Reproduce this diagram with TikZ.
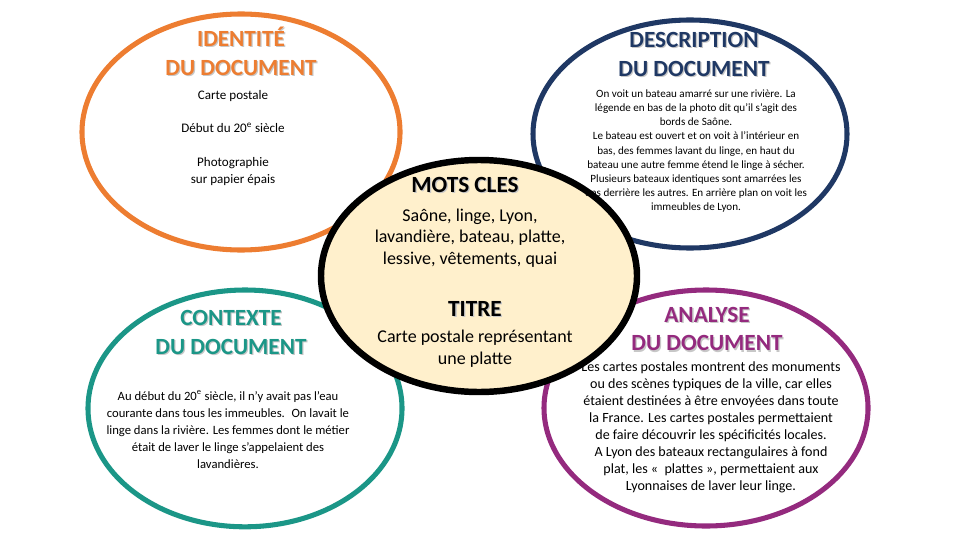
\documentclass[tikz,border=0pt]{standalone}
\usepackage{fontspec}
\setmainfont{Carlito}
\usepackage{tikz}
\usetikzlibrary{shapes.geometric,positioning}
\definecolor{idcolor}{RGB}{237,125,49}
\definecolor{desccolor}{RGB}{31,56,100}
\definecolor{ctxcolor}{RGB}{27,150,135}
\definecolor{anacolor}{RGB}{148,42,126}
\definecolor{keyfill}{RGB}{255,240,204}
\newcommand*{\shadowed}[1]{\makebox[0pt][l]{\hspace{0.9pt}\raisebox{-0.9pt}{\textcolor{black!22}{#1}}}#1}
\tikzset{%
  bubble/.style={draw, ellipse, line width=3.6pt, inner sep=0pt},% coloured frame
  heading/.style={align=center, font=\fontsize{16.5}{20.5}\selectfont\bfseries},% bubble title
  body/.style={align=center, text=black, font=\fontsize{9.3}{12.1}\selectfont}% bubble text
}
\begin{document}
\begin{tikzpicture}
\useasboundingbox (0,0) rectangle (24,13.5);
% frames
\node[bubble, draw=idcolor, minimum width=7.95cm, minimum height=5.9cm] (identite) at (6.025,10.2) {};
\node[bubble, draw=desccolor, minimum width=7.85cm, minimum height=5.7cm] (description) at (17.25,10.15) {};
\node[bubble, draw=ctxcolor, minimum width=7.85cm, minimum height=5.92cm] (contexte) at (6.125,3.29) {};
\node[bubble, draw=anacolor, minimum width=8.1cm, minimum height=5.9cm] (analyse) at (17.65,3.3) {};
\node[bubble, draw=black, line width=4.6pt, fill=keyfill, minimum width=7.9cm, minimum height=5.8cm] (motscles) at (11.975,6.6) {};

% identite
\node[heading, text=idcolor] (identiteT) at (6.025,12.2) {\shadowed{IDENTITÉ}\\\shadowed{DU DOCUMENT}};
\node[body] (identiteB) at (5.825,10.05) {Carte postale\\[11.4pt]
  Début du 20\textsuperscript{e} siècle\\[11.4pt]
  Photographie\\sur papier épais};

% description
\node[heading, text=desccolor] (descriptionT) at (17.35,12.12) {\shadowed{DESCRIPTION}\\\shadowed{DU DOCUMENT}};
\node[body, font=\fontsize{7.9}{10.1}\selectfont] (descriptionB) at (17.4,9.72) {On voit un bateau amarré sur une rivière. La\\
  légende en bas de la photo dit qu’il s’agit des\\bords de Saône.\\
  Le bateau est ouvert et on voit à l’intérieur en\\
  bas, des femmes lavant du linge, en haut du\\
  bateau une autre femme étend le linge à sécher.\\
  Plusieurs bateaux identiques sont amarrées les\\
  uns derrière les autres. En arrière plan on voit les\\
  immeubles de Lyon.};

% mots cles / titre
\node[heading, text=black] (motsclesT) at (11.625,8.86) {\shadowed{MOTS CLES}};
\node[body, font=\fontsize{12.8}{15.3}\selectfont] (motsclesB) at (11.75,7.55) {Saône, linge, Lyon,\\
  lavandière, bateau, platte,\\lessive, vêtements, quai};
\node[heading, text=black] (titreT) at (11.875,5.77) {\shadowed{TITRE}};
\node[body, font=\fontsize{12.8}{15.3}\selectfont] (titreB) at (11.875,4.78) {Carte postale représentant\\une platte};

% contexte
\node[heading, text=ctxcolor] (contexteT) at (5.775,5.17) {\shadowed{CONTEXTE}\\\shadowed{DU DOCUMENT}};
\node[body, font=\fontsize{9}{12.1}\selectfont] (contexteB) at (5.7,2.76) {Au début du 20\textsuperscript{e} siècle, il n’y avait pas l’eau\\
  courante dans tous les immeubles.~ On lavait le\\
  linge dans la rivière. Les femmes dont le métier\\
  était de laver le linge s’appelaient des\\lavandières.};

% analyse
\node[heading, text=anacolor] (analyseT) at (17.675,5.26) {\shadowed{ANALYSE}\\\shadowed{DU DOCUMENT}};
\node[body, font=\fontsize{10}{12.1}\selectfont] (analyseB) at (17.775,2.81) {Les cartes postales montrent des monuments\\
  ou des scènes typiques de la ville, car elles\\
  étaient destinées à être envoyées dans toute\\
  la France. Les cartes postales permettaient\\
  de faire découvrir les spécificités locales.\\
  A Lyon des bateaux rectangulaires à fond\\
  plat, les «~ plattes~», permettaient aux\\
  Lyonnaises de laver leur linge.};
\end{tikzpicture}
\end{document}
